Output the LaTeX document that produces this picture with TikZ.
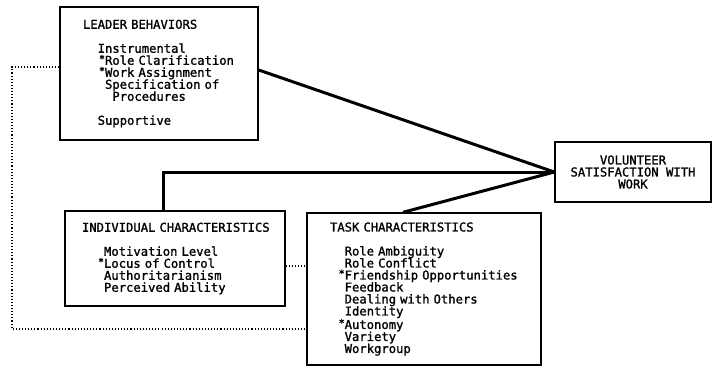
\documentclass[tikz,border=0pt]{standalone}
\usepackage{fontspec}
\newfontfamily\boxfont[FakeBold=1.4, WordSpace={1,0,0}]{DejaVu Sans Mono}
\newcommand\sk{\phantom{M}}
\newcommand\mystar{\makebox[0pt][r]{\raisebox{2.5pt}{\fontsize{10}{10}\selectfont *}}}
\begin{document}
\begin{tikzpicture}[x=1pt,y=-1pt,
  box/.style={draw, line width=1.4pt, rectangle, inner ysep=0pt,
    font=\boxfont\fontsize{12.2}{12}\selectfont, align=left},
  link/.style={line width=3pt},
  dots/.style={line width=1.1pt, dash pattern=on 1.1pt off 2pt}]
\useasboundingbox (0,0) rectangle (713,368);
\node[box, minimum width=198pt, minimum height=133pt, inner xsep=23pt, text width=152pt] (leader) at (159,73.5)
 {\mbox{LEADER BEHAVIORS}\\[12pt]
 \sk\sk Instrumental\\
 \sk\sk\sk\mystar \mbox{Role Clarification}\\
 \sk\sk\sk\mystar \mbox{Work Assignment}\\
 \sk\sk\sk \mbox{Specification of}\\
 \sk\sk\sk\sk Procedures\\[12pt]
 \sk\sk Supportive};
\node[box, minimum width=156pt, minimum height=60pt, align=center] (vol) at (633,172)
 {VOLUNTEER\\SATISFACTION WITH\\WORK};
\node[box, minimum width=220pt, minimum height=95pt, inner xsep=17pt, text width=186pt] (indiv) at (175,258.5)
 {\mbox{INDIVIDUAL CHARACTERISTICS}\\[12pt]
 \sk\sk\sk \mbox{Motivation Level}\\
 \sk\sk\sk\mystar \mbox{Locus of Control}\\
 \sk\sk\sk Authoritarianism\\
 \sk\sk\sk \mbox{Perceived Ability}};
\node[box, minimum width=234pt, minimum height=152pt, inner xsep=23pt, text width=188pt] (task) at (424,289)
 {\mbox{TASK CHARACTERISTICS}\\[12pt]
 \sk\sk \mbox{Role Ambiguity}\\
 \sk\sk \mbox{Role Conflict}\\
 \sk\sk\mystar \mbox{Friendship Opportunities}\\
 \sk\sk Feedback\\
 \sk\sk \mbox{Dealing with Others}\\
 \sk\sk Identity\\
 \sk\sk\mystar Autonomy\\
 \sk\sk Variety\\
 \sk\sk Workgroup};
\draw[link] ([yshift=3.5pt]leader.east) -- (vol.west);
\draw[link] ([xshift=-12pt]indiv.north) |- (vol.west);
\draw[link] ([xshift=-21pt]task.north) -- (vol.west);
\coordinate (c1) at (12,67);
\coordinate (c2) at (12,329);
\draw[dots] ([yshift=-7.5pt]indiv.east) -- ([yshift=-7.5pt]indiv.east -| task.west);
\draw[dots] (leader.west |- c1) -- (c1) -- (c2) -- (c2 -| task.west);
\end{tikzpicture}
\end{document}
